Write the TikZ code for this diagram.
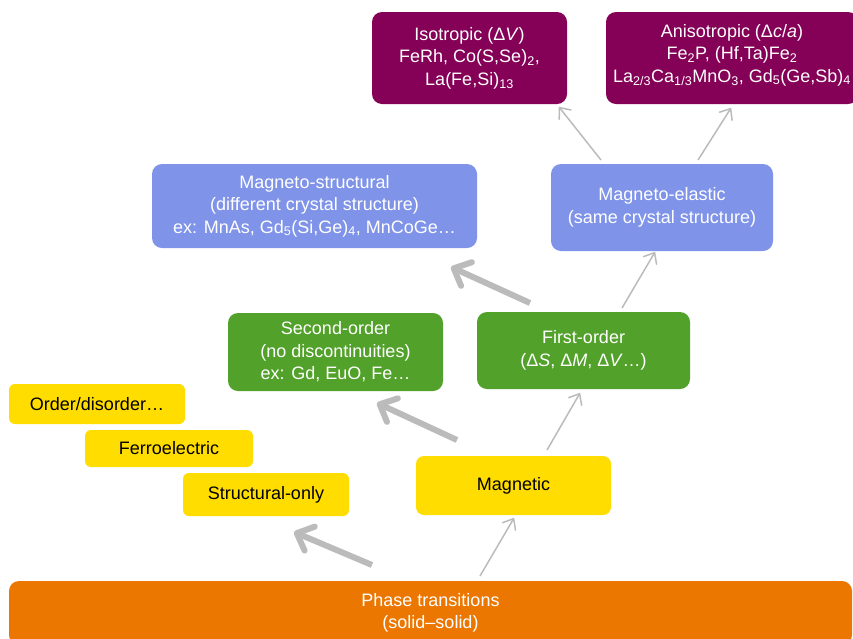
\documentclass[tikz,border=0pt]{standalone}
\usepackage{fontspec}
\setmainfont{Liberation Sans}
\usetikzlibrary{arrows.meta}
\definecolor{purp}{RGB}{133,0,87}
\definecolor{peri}{RGB}{127,147,233}
\definecolor{grn}{RGB}{82,161,42}
\definecolor{yel}{RGB}{255,221,0}
\definecolor{org}{RGB}{236,119,0}
\definecolor{agray}{RGB}{187,187,187}
\tikzset{
  box/.style={rounded corners=10pt, align=center, inner sep=0pt,
    font=\fontsize{18}{22.5}\selectfont, text=white},
  ybox/.style={box, rounded corners=6pt, fill=yel, text=black},
  thickarrow/.style={draw=agray, line width=6pt,
    -{Straight Barb[round, length=14pt, width=26pt]}},
  thinarrow/.style={draw=agray, line width=1.5pt,
    -{Straight Barb[round, length=9pt, width=15pt]}},
}
\begin{document}
\begin{tikzpicture}[x=1pt, y=-1pt]
\useasboundingbox (0,0) rectangle (853,638);
\clip (0,0) rectangle (853,638);
% top row
\node[box, fill=purp, minimum width=195pt, minimum height=92pt] (iso) at (469.5,58)
  {Isotropic (Δ\textit{V})\\FeRh, Co(S,Se)\textsubscript{2},\\La(Fe,Si)\textsubscript{13}};
\node[box, fill=purp, minimum width=252pt, minimum height=92pt] (aniso) at (732,58) {};
\node[box, anchor=center] (anisotext) at (732,55)
  {Anisotropic (Δ\textit{c}/\textit{a})\\Fe\textsubscript{2}P, (Hf,Ta)Fe\textsubscript{2}\\La\textsubscript{2/3}Ca\textsubscript{1/3}MnO\textsubscript{3}, Gd\textsubscript{5}(Ge,Sb)\textsubscript{4}};
% blue row
\node[box, fill=peri, minimum width=325pt, minimum height=84pt] (mstruct) at (314.5,206)
  {Magneto-structural\\(different crystal structure)\\ex: MnAs, Gd\textsubscript{5}(Si,Ge)\textsubscript{4}, MnCoGe…};
\node[box, fill=peri, minimum width=222pt, minimum height=87pt] (melast) at (662,207.5)
  {Magneto-elastic\\(same crystal structure)};
% green row
\node[box, fill=grn, minimum width=215pt, minimum height=78pt] (second) at (335.5,352)
  {Second-order\\(no discontinuities)\\ex: Gd, EuO, Fe…};
\node[box, fill=grn, minimum width=213pt, minimum height=77pt] (first) at (583.5,350.5)
  {First-order\\(Δ\textit{S}, Δ\textit{M}, Δ\textit{V}…)};
% yellow
\node[ybox, minimum width=176pt, minimum height=40pt] (order) at (97,404) {Order/disorder…};
\node[ybox, minimum width=168pt, minimum height=37pt] (ferro) at (169,448.5) {Ferroelectric};
\node[ybox, minimum width=166pt, minimum height=43pt] (struct) at (266,494.5) {Structural-only};
\node[ybox, rounded corners=8pt, minimum width=195pt, minimum height=59pt] (magn) at (513.5,485.5) {Magnetic};
% bottom
\node[box, fill=org, minimum width=843pt, minimum height=64pt] (phase) at (430.5,613)
  {Phase transitions\\(solid–solid)};
% arrow end points
\coordinate (t1a) at (372,565); \coordinate (t1b) at (294,532);
\coordinate (t2a) at (457,440); \coordinate (t2b) at (377,403);
\coordinate (t3a) at (530,303); \coordinate (t3b) at (451,267);
\coordinate (s1a) at (480,576); \coordinate (s1b) at (514,518);
\coordinate (s2a) at (547,450); \coordinate (s2b) at (580,393);
\coordinate (s3a) at (622,308); \coordinate (s3b) at (655,252);
\coordinate (s4a) at (601,160); \coordinate (s4b) at (559,107);
\coordinate (s5a) at (698,160); \coordinate (s5b) at (731,108);
\draw[thickarrow] (t1a) -- (t1b);
\draw[thickarrow] (t2a) -- (t2b);
\draw[thickarrow] (t3a) -- (t3b);
\draw[thinarrow] (s1a) -- (s1b);
\draw[thinarrow] (s2a) -- (s2b);
\draw[thinarrow] (s3a) -- (s3b);
\draw[thinarrow] (s4a) -- (s4b);
\draw[thinarrow] (s5a) -- (s5b);
\end{tikzpicture}
\end{document}
